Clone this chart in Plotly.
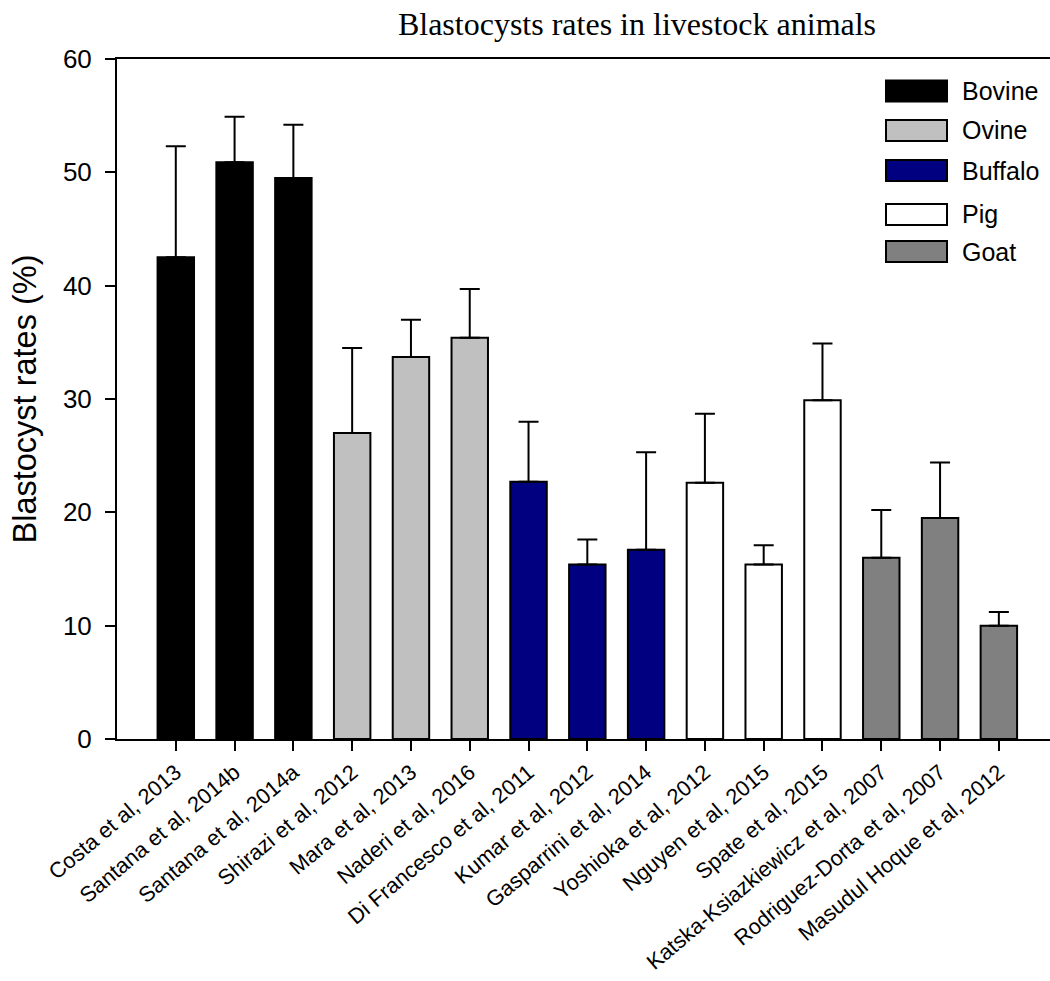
import plotly.graph_objects as go

# ---------------- data ----------------
studies = [
    "Costa et al, 2013", "Santana et al, 2014b", "Santana et al, 2014a",
    "Shirazi et al, 2012", "Mara et al, 2013", "Naderi et al, 2016",
    "Di Francesco et al, 2011", "Kumar et al, 2012", "Gasparrini et al, 2014",
    "Yoshioka et al, 2012", "Nguyen et al, 2015", "Spate et al, 2015",
    "Katska-Ksiazkiewicz et al, 2007", "Rodriguez-Dorta et al, 2007",
    "Masudul Hoque et al, 2012",
]
species = [
    "Bovine", "Bovine", "Bovine",
    "Ovine", "Ovine", "Ovine",
    "Buffalo", "Buffalo", "Buffalo",
    "Pig", "Pig", "Pig",
    "Goat", "Goat", "Goat",
]
rates = [42.5, 50.9, 49.5, 27.0, 33.7, 35.4, 22.7, 15.4, 16.7,
         22.6, 15.4, 29.9, 16.0, 19.5, 10.0]
errors = [9.8, 4.0, 4.7, 7.5, 3.3, 4.3, 5.3, 2.2, 8.6,
          6.1, 1.7, 5.0, 4.2, 4.9, 1.2]

legend_names = ["Bovine", "Ovine", "Buffalo", "Pig", "Goat"]
colors = {"Bovine": "#000000", "Ovine": "#C0C0C0", "Buffalo": "#000080",
          "Pig": "#FFFFFF", "Goat": "#808080"}

# ---------------- layout geometry (pixels) ----------------
W, H = 1050, 981
L, R, T, B = 117, 0, 59, 242
plot_w = W - L - R
plot_h = H - T - B
SANS = "Liberation Sans, Arial, sans-serif"

fig = go.Figure()
fig.add_trace(go.Bar(
    x=studies,
    y=rates,
    width=0.62,
    marker=dict(color=[colors[s] for s in species],
                line=dict(color="black", width=2)),
    error_y=dict(type="data", symmetric=False, array=errors,
                 arrayminus=[0] * len(errors),
                 color="black", thickness=2, width=10),
    showlegend=False,
))

# custom legend (wide swatches like the original)
legend_px_y = [91, 130.5, 170.5, 214.5, 251.5]
sw_x0, sw_x1, txt_x = 886, 947, 960
shapes, annotations = [], []
for name, py in zip(legend_names, legend_px_y):
    y0 = (H - B - (py + 10.5)) / plot_h
    y1 = (H - B - (py - 10.5)) / plot_h
    shapes.append(dict(type="rect", xref="paper", yref="paper",
                       x0=(sw_x0 - L) / plot_w, x1=(sw_x1 - L) / plot_w,
                       y0=y0, y1=y1, fillcolor=colors[name],
                       line=dict(color="black", width=2)))
    annotations.append(dict(xref="paper", yref="paper",
                            x=(txt_x - L) / plot_w, y=(H - B - py) / plot_h,
                            xanchor="left", yanchor="middle", showarrow=False,
                            text=name,
                            font=dict(family=SANS, size=25, color="black")))

fig.update_layout(
    width=W, height=H,
    margin=dict(l=L, r=R, t=T, b=B, autoexpand=False),
    paper_bgcolor="white", plot_bgcolor="white",
    title=dict(text="Blastocysts rates in livestock animals",
               x=637 / W, xref="container", xanchor="center",
               y=1 - 24 / H, yref="container", yanchor="middle",
               font=dict(family="Liberation Serif, Times New Roman, serif",
                         size=32, color="black")),
    shapes=shapes, annotations=annotations,
    showlegend=False,
)
fig.update_xaxes(
    type="category", categoryorder="array", categoryarray=studies,
    range=[-1, 14.87],
    showline=True, linecolor="black", linewidth=2, mirror=True,
    ticks="outside", ticklen=10, tickwidth=2, tickcolor="black",
    tickangle=-40, showgrid=False, zeroline=False,
    tickfont=dict(family=SANS, size=21.8, color="black"),
    automargin=False,
)
fig.update_yaxes(
    range=[0, 60], tick0=0, dtick=10,
    showline=True, linecolor="black", linewidth=2,
    ticks="outside", ticklen=10, tickwidth=2, tickcolor="black",
    ticklabelstandoff=8,
    showgrid=False, zeroline=False,
    tickfont=dict(family=SANS, size=26, color="black"),
    title=dict(text="Blastocyst rates (%)", standoff=17,
               font=dict(family=SANS, size=32.5, color="black")),
    automargin=False,
)

fig.write_html("out.html", config={"displayModeBar": False},
               post_script="document.body.style.margin='0';")
